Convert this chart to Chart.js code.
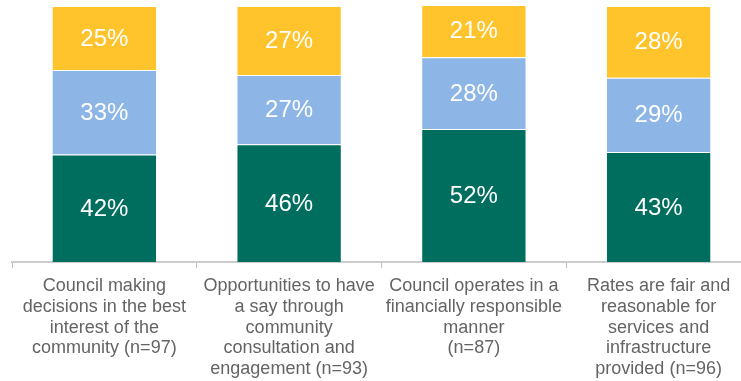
<!DOCTYPE html>
<html>
<head>
<meta charset="utf-8">
<script src="https://cdn.jsdelivr.net/npm/chart.js@4"></script>
<style>
    html, body { margin: 0; padding: 0; background: #fff; overflow: hidden; }
    #wrap { position: relative; width: 760px; height: 381px; }
</style>
</head>
<body>
<div id="wrap"><canvas id="chart"></canvas></div>
<script>
const categories = [
    ['Council making', 'decisions in the best', 'interest of the', 'community (n=97)'],
    ['Opportunities to have', 'a say through', 'community', 'consultation and', 'engagement (n=93)'],
    ['Council operates in a', 'financially responsible', 'manner', '(n=87)'],
    ['Rates are fair and', 'reasonable for', 'services and', 'infrastructure', 'provided (n=96)']
];
const bottomValues = [42, 46, 52, 43];
const middleValues = [33, 27, 28, 29];
const topValues = [25, 27, 21, 28];

const FONT = '"Liberation Sans", Arial, sans-serif';

// white percentage in the middle of every segment
const valueLabels = {
    id: 'valueLabels',
    afterDatasetsDraw(chart) {
        const ctx = chart.ctx;
        ctx.save();
        ctx.fillStyle = '#ffffff';
        ctx.font = '24px ' + FONT;
        ctx.textAlign = 'center';
        ctx.textBaseline = 'middle';
        chart.data.datasets.forEach((ds, i) => {
            chart.getDatasetMeta(i).data.forEach((bar, j) => {
                const p = bar.getProps(['x', 'y', 'base'], true);
                ctx.fillText(ds.data[j] + '%', p.x, (p.y + p.base) / 2 + 1);
            });
        });
        ctx.restore();
    }
};

function segment(data, color){
    return {
        data,
        backgroundColor: color,
        borderColor: 'rgba(255,255,255,0.3)',
        borderWidth: 1,
        categoryPercentage: 1,
        barPercentage: 0.57
    };
}

new Chart(document.getElementById('chart'), {
    type: 'bar',
    data: {
        labels: categories,
        datasets: [
            segment(bottomValues, '#006e5e'),
            segment(middleValues, '#8db6e7'),
            segment(topValues, '#ffc42c')
        ]
    },
    options: {
        responsive: true,
        maintainAspectRatio: false,
        animation: false,
        layout: { padding: { left: 12, right: 9, top: 6, bottom: 0 } },
        plugins: {
            legend: { display: false },
            tooltip: { enabled: false }
        },
        scales: {
            x: {
                stacked: true,
                offset: true,
                grid: {
                    offset: true,
                    drawOnChartArea: false,
                    drawTicks: true,
                    tickLength: 6,
                    color: '#bfbfbf',
                    lineWidth: 1
                },
                border: { display: true, color: '#cccccc', width: 2 },
                ticks: {
                    color: '#646464',
                    font: { family: FONT, size: 18, lineHeight: 1.15 },
                    padding: 8,
                    maxRotation: 0,
                    autoSkip: false
                },
                afterFit(scale) {
                    scale.height = 119;
                }
            },
            y: {
                stacked: true,
                display: false,
                min: 0,
                max: 100
            }
        }
    },
    plugins: [valueLabels]
});
</script>
</body>
</html>
